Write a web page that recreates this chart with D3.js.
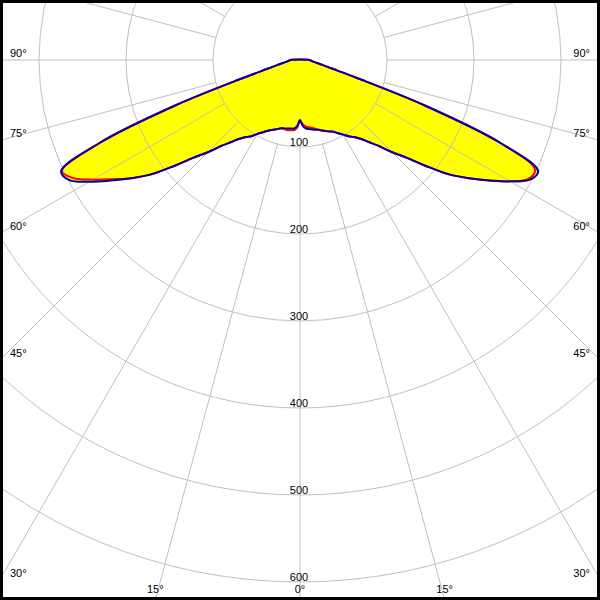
<!DOCTYPE html>
<html><head><meta charset="utf-8">
<script src="https://cdn.jsdelivr.net/npm/d3@7"></script>
<style>html,body{margin:0;padding:0;background:#fff;} svg{display:block;}</style>
</head><body>
<svg id="c" width="600" height="600"></svg>
<script>
// Angles in degrees from nadir (0 = straight down), negative = left
const angles = [-90,-87.5,-85,-82.5,-80,-77.5,-75,-72.5,-70,-67.5,-65,-62.5,-60,-57.5,-55,-52.5,-50,-47.5,-45,-42.5,-40,-37.5,-35,-32.5,-30,-27.5,-25,-22.5,-20,-17.5,-15,-12.5,-10,-7.5,-5,-2.5,0,
  2.5,5,7.5,10,12.5,15,17.5,20,22.5,25,27.5,30,32.5,35,37.5,40,42.5,45,47.5,50,52.5,55,57.5,60,62.5,65,67.5,70,72.5,75,77.5,80,82.5,85,87.5,90];
// Intensity (cd) - blue plane
const blueValues = [11,12,14,16,20,27,38,68,152,250,303,299,280,258,237,216,190,166,150,134,123,114,108,104,98,94,90,87,85,83,81,80.5,80,79.5,79,76,69,
  76,79,80,81,82,83,85,87,89,91,95,99,104,108,114,123,134,150,166,190,216,237,258,279,298,302,250,152,68,38,27,20,16,14,12,11];
// Intensity (cd) - red plane
const redValues = [11,12,14,16,20,27,38,68,152,250,302,294,275,255,237,216,190,166,150,134,123,114,108,104,98,94,90,87,85,83,81.5,81.5,82,81.5,81,78,71,
  74,77,78,79,81,83,85,87,89,91,95,99,104,108,114,123,134,150,166,190,216,237,258,279,296,298,250,152,68,38,27,20,16,14,12,11];
const ringValues = [100,200,300,400,500,600];
const spokeAngles = [0,15,30,45,60,75,90,105,120,135,150,165,180,195,210,225,240,255,270,285,300,315,330,345];
const labelAngles = [-90,-75,-60,-45,-30,-15,0,15,30,45,60,75,90];
const labelTexts = ["90°","75°","60°","45°","30°","15°","0°","15°","30°","45°","60°","75°","90°"];

const W = 600, H = 600, cx = 300, cy = 60;
const r = d3.scaleLinear().domain([0, 600]).range([0, 522]);
const svg = d3.select("#c");
const rad = d => d * Math.PI / 180;

svg.append("rect").attr("width", W).attr("height", H).attr("fill", "#fff");
const g = svg.append("g").attr("transform", `translate(${cx},${cy})`);

const pts = (vals) => angles.map((a, i) => [Math.PI - rad(a), r(vals[i])]);
const line = d3.lineRadial().angle(d => d[0]).radius(d => d[1]).curve(d3.curveCatmullRomClosed.alpha(0.5));

// fill
g.append("path").attr("d", line(pts(blueValues))).attr("fill", "#ffff00").attr("stroke", "none");

// grid rings
g.selectAll("circle.ring").data(ringValues).join("circle")
  .attr("r", d => r(d)).attr("fill", "none").attr("stroke", "#c0c0c0").attr("stroke-width", 1);
// spokes
g.selectAll("line.spoke").data(spokeAngles).join("line")
  .attr("x1", d => r(100) * Math.sin(rad(d))).attr("y1", d => r(100) * Math.cos(rad(d)))
  .attr("x2", d => r(1200) * Math.sin(rad(d))).attr("y2", d => r(1200) * Math.cos(rad(d)))
  .attr("stroke", "#c0c0c0").attr("stroke-width", 1);

// curves
g.append("path").attr("d", line(pts(redValues))).attr("fill", "none").attr("stroke", "#ff0000").attr("stroke-width", 2);
g.append("path").attr("d", line(pts(blueValues))).attr("fill", "none").attr("stroke", "#0000b0").attr("stroke-width", 2);

const font = "Liberation Sans, Arial, sans-serif";
// ring labels
svg.selectAll("text.ring").data(ringValues).join("text")
  .attr("x", cx - 1).attr("y", d => cy + r(d) - 1)
  .attr("text-anchor", "middle").attr("font-family", font).attr("font-size", 11).attr("fill", "#000")
  .text(d => d);

// angle labels
labelAngles.forEach((a, i) => {
  const s = Math.sin(rad(a)), c = Math.cos(rad(a));
  let tSide = Infinity;
  if (s < -1e-9) tSide = (0 - cx) / s; else if (s > 1e-9) tSide = (W - cx) / s;
  const tBot = (H - cy) / c;
  let x, y, anchor;
  if (tSide <= tBot) {
    y = cy + tSide * c - 3;
    if (s < 0) { x = 10; anchor = "start"; } else { x = 590; anchor = "end"; }
  } else {
    x = cx + tBot * s; y = 593; anchor = "middle";
  }
  svg.append("text").attr("x", x).attr("y", y).attr("text-anchor", anchor)
    .attr("font-family", font).attr("font-size", 11).attr("fill", "#000").text(labelTexts[i]);
});

// frame
svg.append("rect").attr("x", 1.5).attr("y", 1.5).attr("width", W - 3).attr("height", H - 3)
  .attr("fill", "none").attr("stroke", "#000").attr("stroke-width", 3);
</script>
</body></html>
